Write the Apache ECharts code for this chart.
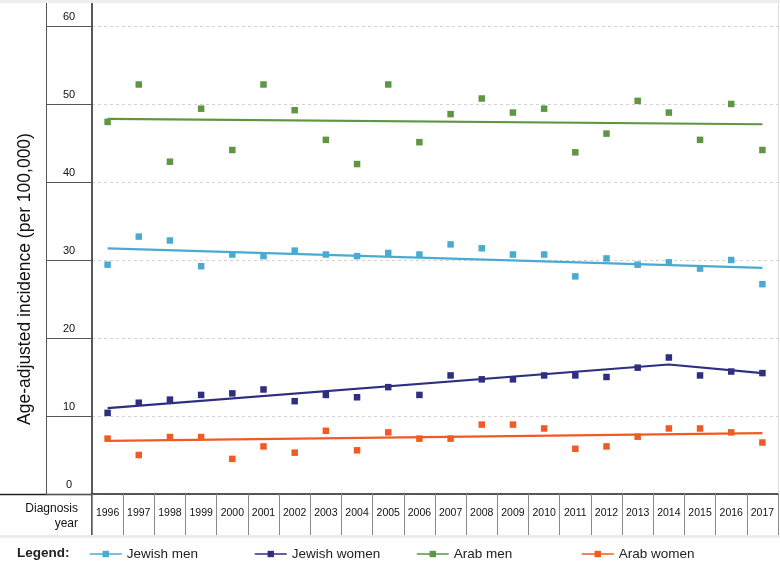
<!DOCTYPE html>
<html>
<head>
<meta charset="utf-8">
<script src="https://cdn.jsdelivr.net/npm/echarts@6/dist/echarts.min.js"></script>
<style>
html,body{margin:0;padding:0;background:#fff;}
#chart{width:780px;height:569px;}
</style>
</head>
<body>
<div id="chart"></div>
<script>
const years = ['1996','1997','1998','1999','2000','2001','2002','2003','2004','2005','2006','2007','2008','2009','2010','2011','2012','2013','2014','2015','2016','2017'];
const yTicks = [0, 10, 20, 30, 40, 50, 60];

const jewishMen   = [29.4, 33.0, 32.5, 29.2, 30.7, 30.5, 31.2, 30.7, 30.5, 30.9, 30.7, 32.0, 31.5, 30.7, 30.7, 27.9, 30.2, 29.4, 29.7, 28.9, 30.0, 26.9];
const jewishWomen = [10.4, 11.7, 12.1, 12.7, 12.9, 13.4, 11.9, 12.7, 12.4, 13.7, 12.7, 15.2, 14.7, 14.7, 15.2, 15.2, 15.0, 16.2, 17.5, 15.2, 15.7, 15.5];
const arabMen     = [47.7, 52.5, 42.6, 49.4, 44.1, 52.5, 49.2, 45.4, 42.3, 52.5, 45.1, 48.7, 50.7, 48.9, 49.4, 43.8, 46.2, 50.4, 48.9, 45.4, 50.0, 44.1];
const arabWomen   = [7.1, 5.0, 7.3, 7.3, 4.5, 6.1, 5.3, 8.1, 5.6, 7.9, 7.1, 7.1, 8.9, 8.9, 8.4, 5.8, 6.1, 7.35, 8.4, 8.4, 7.9, 6.6];

const trendJewishMen   = [['1996', 31.5], ['2017', 29.0]];
const trendJewishWomen = [['1996', 11.0], ['2014', 16.6], ['2017', 15.5]];
const trendArabMen     = [['1996', 48.1], ['2017', 47.4]];
const trendArabWomen   = [['1996', 6.8], ['2017', 7.8]];

const seriesNames = ['Jewish men', 'Jewish women', 'Arab men', 'Arab women'];
const colors = ['#4aabd2', '#2e2f80', '#5e9642', '#f15a24'];
const points = [jewishMen, jewishWomen, arabMen, arabWomen];
const trends = [trendJewishMen, trendJewishWomen, trendArabMen, trendArabWomen];
const legendLefts = [84, 249, 411, 576];

const FONT = '"Liberation Sans", Arial, Helvetica, sans-serif';
const chart = echarts.init(document.getElementById('chart'), null, {renderer: 'canvas'});

const series = [];
seriesNames.forEach((name, i) => {
  series.push({
    name: name,
    type: 'line',
    data: trends[i],
    symbol: 'rect',
    showSymbol: false,
    lineStyle: {color: colors[i], width: 2.2},
    itemStyle: {color: colors[i]},
    silent: true,
    z: 3
  });
});
seriesNames.forEach((name, i) => {
  series.push({
    name: name,
    type: 'scatter',
    data: points[i],
    symbol: 'rect',
    symbolSize: 6.5,
    itemStyle: {color: colors[i], opacity: 1},
    z: 4
  });
});

const legends = seriesNames.map((name, i) => ({
  left: legendLefts[i],
  top: 542,
  itemWidth: 32,
  itemHeight: 8,
  data: [name],
  textStyle: {fontSize: 13.5, color: '#222', fontFamily: FONT},
  lineStyle: {width: 1.5},
  selectedMode: false
}));

const option = {
  animation: false,
  backgroundColor: '#fff',
  textStyle: {fontFamily: FONT},
  grid: {left: 92, right: 2, top: 0, bottom: 75, containLabel: false, outerBoundsMode: 'none'},
  xAxis: {
    type: 'category',
    data: years,
    boundaryGap: true,
    axisLine: {show: true, lineStyle: {color: '#222', width: 1.5}},
    axisTick: {show: true, interval: 0, length: 41, lineStyle: {color: '#8a8a8a', width: 1}},
    axisLabel: {interval: 0, margin: 14, fontSize: 10.5, color: '#111', fontFamily: FONT},
    splitLine: {show: false}
  },
  yAxis: [
    {
      type: 'value',
      min: yTicks[0],
      max: 63.33,
      interval: 10,
      axisLine: {show: true, lineStyle: {color: '#222', width: 1.5}},
      axisTick: {show: true, length: 46, lineStyle: {color: '#555', width: 1}},
      axisLabel: {
        showMaxLabel: false,
        margin: 23,
        align: 'center',
        verticalAlign: 'bottom',
        padding: [0, 0, 4, 0],
        fontSize: 11,
        color: '#111',
        fontFamily: FONT,
        formatter: v => (yTicks.indexOf(v) >= 0 ? String(v) : '')
      },
      splitLine: {show: true, lineStyle: {color: '#d2d2d2', type: [3, 3], width: 1}}
    },
    {
      type: 'value', min: 0, max: 63.33, position: 'left', offset: 46,
      axisLine: {show: true, lineStyle: {color: '#555', width: 1}},
      axisTick: {show: false}, axisLabel: {show: false}, splitLine: {show: false}
    },
    {
      type: 'value', min: 0, max: 63.33, position: 'right',
      axisLine: {show: true, lineStyle: {color: '#dddddd', width: 1}},
      axisTick: {show: false}, axisLabel: {show: false}, splitLine: {show: false}
    }
  ],
  legend: legends,
  graphic: [
    {type: 'rect', left: 0, top: 0, shape: {width: 780, height: 3}, style: {fill: '#ededed'}, z: 100, silent: true},
    {type: 'rect', left: 0, top: 535, shape: {width: 780, height: 3}, style: {fill: '#efebed'}, silent: true},
    {type: 'line', shape: {x1: 0, y1: 494.5, x2: 92, y2: 494.5}, style: {stroke: '#222', lineWidth: 1.5}, silent: true},
    {type: 'line', shape: {x1: 92, y1: 494, x2: 92, y2: 535}, style: {stroke: '#222', lineWidth: 1.5}, silent: true},
    {type: 'text', x: 78, y: 509, style: {text: 'Diagnosis', fontSize: 12, fontFamily: FONT, fill: '#111', align: 'right', verticalAlign: 'middle'}, silent: true},
    {type: 'text', x: 78, y: 524, style: {text: 'year', fontSize: 12, fontFamily: FONT, fill: '#111', align: 'right', verticalAlign: 'middle'}, silent: true},
    {type: 'text', x: 25, y: 279, rotation: Math.PI / 2, style: {text: 'Age-adjusted incidence (per 100,000)', fontSize: 17.5, fontFamily: FONT, fill: '#111', align: 'center', verticalAlign: 'middle'}, silent: true},
    {type: 'text', x: 17, y: 553, style: {text: 'Legend:', fontSize: 13.5, fontWeight: 'bold', fontFamily: FONT, fill: '#222', align: 'left', verticalAlign: 'middle'}, silent: true}
  ],
  series: series
};
chart.setOption(option);
</script>
</body>
</html>
